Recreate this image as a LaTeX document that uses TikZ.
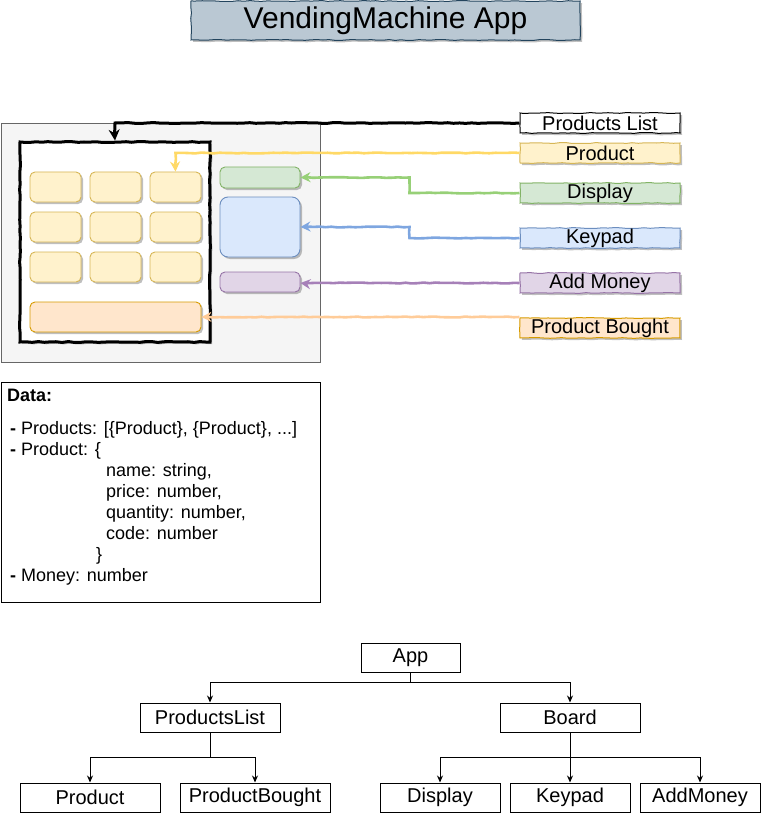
\documentclass[tikz,border=0pt]{standalone}
\usepackage{fontspec}
\setmainfont{Liberation Sans}
\usetikzlibrary{arrows.meta,decorations.pathmorphing,shadows}
\definecolor{ttlF}{HTML}{BAC8D3}\definecolor{ttlD}{HTML}{23445D}
\definecolor{gryF}{HTML}{F5F5F5}\definecolor{gryD}{HTML}{666666}
\definecolor{ylwF}{HTML}{FFF2CC}\definecolor{ylwD}{HTML}{D6B656}\definecolor{ylwA}{HTML}{FFD966}
\definecolor{orgF}{HTML}{FFE6CC}\definecolor{orgD}{HTML}{D79B00}\definecolor{orgA}{HTML}{FFCC99}
\definecolor{grnF}{HTML}{D5E8D4}\definecolor{grnD}{HTML}{82B366}\definecolor{grnA}{HTML}{97D077}
\definecolor{bluF}{HTML}{DAE8FC}\definecolor{bluD}{HTML}{6C8EBF}\definecolor{bluA}{HTML}{7EA6E0}
\definecolor{purF}{HTML}{E1D5E7}\definecolor{purD}{HTML}{9673A6}\definecolor{purA}{HTML}{A680B8}
\tikzset{
  sk/.style={decorate, decoration={random steps, segment length=6pt, amplitude=0.45pt}},
  shd/.style={drop shadow={shadow xshift=2pt, shadow yshift=-2pt, opacity=0.25, fill=black}},
  rbox/.style={draw, line width=0.9pt, rounded corners=5pt, inner sep=0pt, shd},
  lbl/.style={draw, sk, line width=1pt, inner sep=0pt, minimum width=160pt, minimum height=20pt,
    font=\fontsize{20}{22}\selectfont, shd},
  tbox/.style={draw, line width=1pt, inner sep=0pt, minimum height=29pt,
    font=\fontsize{20}{22}\selectfont},
  dtxt/.style={anchor=base west, inner sep=0pt, font=\fontsize{18}{21}\selectfont},
  carr/.style={line width=2.6pt, sk, -{Stealth[length=10pt,width=10pt]}},
  tarr/.style={line width=1pt, -{Stealth[length=7pt,width=6pt]}},
}
\begin{document}
\pgfmathsetseed{7}
\begin{tikzpicture}[x=1pt,y=-1pt]
\useasboundingbox (0,0) rectangle (761,813);
% title
\node[draw=ttlD, fill=ttlF, sk, line width=1pt, inner sep=0pt, minimum width=389pt, minimum height=39pt,
  font=\fontsize{30}{32}\selectfont, shd] (title) at (385.5,20.5) {VendingMachine App};
% machine
\node[draw=gryD, fill=gryF, line width=0.8pt, inner sep=0pt, minimum width=319pt, minimum height=239pt] (outer) at (160.5,242.5) {};
\node[draw=black, fill=white, sk, line width=3pt, inner sep=0pt, minimum width=190pt, minimum height=200pt, shd] (inner) at (115,242) {};
\foreach \r/\yy in {1/187,2/227,3/267}{
  \foreach \c/\xx in {1/55.5,2/115.5,3/175.5}{
    \node[rbox, fill=ylwF, draw=ylwD, minimum width=51pt, minimum height=30pt] (y\r\c) at (\xx,\yy) {};
  }
}
\node[rbox, fill=orgF, draw=orgD, minimum width=171pt, minimum height=30pt] (orange) at (115.5,317) {};
\node[rbox, fill=grnF, draw=grnD, minimum width=80pt, minimum height=21pt] (green) at (260,177.5) {};
\node[rbox, fill=bluF, draw=bluD, rounded corners=8pt, minimum width=80pt, minimum height=60pt] (blue) at (260,227) {};
\node[rbox, fill=purF, draw=purD, minimum width=80pt, minimum height=20pt] (purple) at (260,282) {};
% labels
\node[lbl, fill=white, draw=black] (plab) at (600,123) {Products List};
\node[lbl, fill=ylwF, draw=ylwD] (prlab) at (600,153) {Product};
\node[lbl, fill=grnF, draw=grnD] (dlab) at (600,193) {Display};
\node[lbl, fill=bluF, draw=bluD] (klab) at (600,238) {Keypad};
\node[lbl, fill=purF, draw=purD] (alab) at (600,283) {Add Money};
\node[lbl, fill=orgF, draw=orgD] (blab) at (600,328) {Product Bought};
% arrows
\draw[carr, line width=3pt, black, -{Stealth[length=11pt,width=11pt]}] (plab.west) -| (inner.north);
\draw[carr, ylwA] (prlab.west) -| (y13.north);
\draw[carr, grnA] (dlab.west) -- ++(-110,0) |- (green.east);
\draw[carr, bluA] (klab.west) -- ++(-110,0) |- (blue.east);
\draw[carr, purA] (alab.west) -- (alab.west -| purple.east);
\draw[carr, orgA] (orange.east -| blab.west) -- (orange.east);
% data
\node[draw, line width=1pt, inner sep=0pt, minimum width=319pt, minimum height=220pt] (data) at (160.5,492) {};
\node[dtxt] (d0) at (7,401) {\textbf{Data:}};
\node[dtxt] (d1) at (10,434) {\textbf{-} Products: [\{Product\}, \{Product\}, ...]};
\node[dtxt] (d2) at (10,455) {\textbf{-} Product: \{};
\node[dtxt] (d3) at (106,476) {name: string,};
\node[dtxt] (d4) at (106,497) {price: number,};
\node[dtxt] (d5) at (106,518) {quantity: number,};
\node[dtxt] (d6) at (106,539) {code: number};
\node[dtxt] (d7) at (96,560) {\}};
\node[dtxt] (d8) at (10,581) {\textbf{-} Money: number};
% tree
\node[tbox, minimum width=99pt] (app) at (410.5,657.5) {App};
\node[tbox, minimum width=140pt] (tpl) at (210,717.5) {ProductsList};
\node[tbox, minimum width=140pt] (tbd) at (570,717.5) {Board};
\node[tbox, minimum width=140pt] (tpr) at (90,797.5) {Product};
\node[tbox, minimum width=150pt] (tpb) at (255,797.5) {ProductBought};
\node[tbox, minimum width=120pt] (tdi) at (440,797.5) {Display};
\node[tbox, minimum width=120pt] (tkp) at (570,797.5) {Keypad};
\node[tbox, minimum width=120pt] (tam) at (700,797.5) {AddMoney};
\draw[tarr] (app.south) -- ++(0,10) -| (tpl.north);
\draw[tarr] (app.south) -- ++(0,10) -| (tbd.north);
\draw[tarr] (tpl.south) -- ++(0,25) -| (tpr.north);
\draw[tarr] (tpl.south) -- ++(0,25) -| (tpb.north);
\draw[tarr] (tbd.south) -- ++(0,25) -| (tdi.north);
\draw[tarr] (tbd.south) -- (tkp.north);
\draw[tarr] (tbd.south) -- ++(0,25) -| (tam.north);
\end{tikzpicture}
\end{document}
